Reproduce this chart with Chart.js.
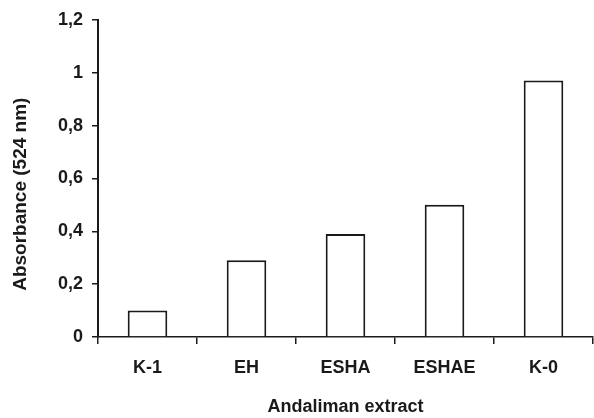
<!DOCTYPE html>
<html>
<head>
<meta charset="utf-8">
<script src="https://cdn.jsdelivr.net/npm/chart.js@4"></script>
<style>
  html, body { margin: 0; padding: 0; background: #fff; }
  #wrap { width: 594px; height: 418px; }
</style>
</head>
<body>
<div id="wrap"><canvas id="absChart"></canvas></div>
<script>
const extracts = ["K-1", "EH", "ESHA", "ESHAE", "K-0"];
const absorbance = [0.10, 0.29, 0.39, 0.50, 0.97];
const yTicks = [0, 0.2, 0.4, 0.6, 0.8, 1, 1.2];

const ink = "#1a1a1a";
const family = "'Liberation Sans', Arial, sans-serif";
const tickFont = { family: family, size: 18, weight: "bold" };

new Chart(document.getElementById("absChart"), {
    type: "bar",
    data: {
        labels: extracts,
        datasets: [{
            data: absorbance,
            backgroundColor: "#ffffff",
            borderColor: ink,
            borderWidth: 2,
            barPercentage: 0.4,
            categoryPercentage: 1
        }]
    },
    options: {
        responsive: true,
        maintainAspectRatio: false,
        animation: false,
        layout: { padding: { top: 18, right: 1, bottom: 0, left: 0 } },
        plugins: { legend: { display: false }, tooltip: { enabled: false } },
        scales: {
            x: {
                offset: true,
                grid: { offset: true, drawOnChartArea: false, drawTicks: true, tickLength: 7, color: ink, lineWidth: 1.5 },
                border: { color: ink, width: 1.5 },
                ticks: { color: ink, font: tickFont, padding: 13 },
                title: { display: true, text: "Andaliman extract", color: ink, font: { family: family, size: 18, weight: "bold" }, padding: { top: 0, bottom: 0 } },
                afterFit: s => { s.height = 81; }
            },
            y: {
                min: 0,
                max: 1.2,
                afterBuildTicks: s => { s.ticks = yTicks.map(v => ({ value: v })); },
                grid: { drawOnChartArea: false, drawTicks: true, tickLength: 6, color: ink, lineWidth: 1.5 },
                border: { color: ink, width: 2 },
                ticks: {
                    color: ink,
                    font: tickFont,
                    padding: 9,
                    callback: v => String(v).replace(".", ",")
                },
                // trailing spaces push the centred label a little lower, as in the original
                title: { display: true, text: "Absorbance (524 nm)      ", color: ink, font: { family: family, size: 19, weight: "bold" }, padding: { top: 9, bottom: 0 } },
                afterFit: s => { s.width = 98; }
            }
        }
    }
});
</script>
</body>
</html>
